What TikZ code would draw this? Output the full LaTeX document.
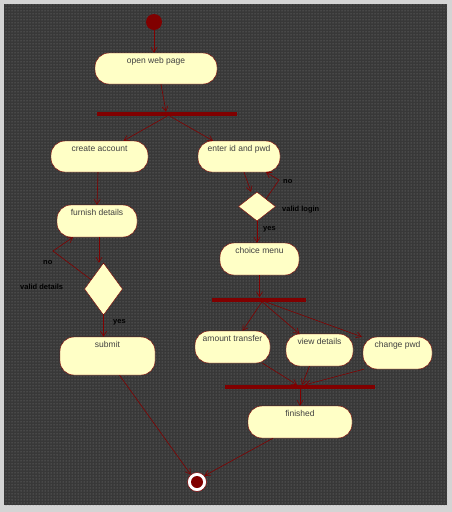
\documentclass[tikz,border=0pt]{standalone}
\usepackage{fontspec}
\setmainfont{Liberation Sans}
\usepackage{tikz}
\usetikzlibrary{arrows.meta,shapes.geometric,patterns}

\definecolor{umlred}{HTML}{800000}
\definecolor{umlfill}{HTML}{FFFFC6}
\definecolor{umlbg}{HTML}{383838}
\definecolor{umlframe}{HTML}{D4D4D4}

\begin{document}
\begin{tikzpicture}[x=1pt,y=-1pt,
  every node/.style={font=\fontsize{8.5}{10}\selectfont},
  act/.style 2 args={draw=umlred,fill=umlfill,text=black!75,rounded corners=14pt,
    minimum width=#1,inner xsep=0pt,inner ysep=2pt,text height=8pt,text depth=#2},
  bar/.style={fill=umlred,inner sep=0pt,minimum width=#1,minimum height=4pt},
  choice/.style 2 args={diamond,draw=umlred,fill=umlfill,inner sep=0pt,
    minimum width=#1,minimum height=#2},
  guard/.style={font=\bfseries\fontsize{7.5}{8}\selectfont,text=black,inner sep=0pt},
  flow/.style={draw=umlred,line width=0.6pt,-{Straight Barb[length=5pt,width=6pt]}}]

\fill[umlframe] (0,0) rectangle (452,512);
\fill[umlbg] (4,4) rectangle (447,505);
\fill[pattern=dots,pattern color=white!38!umlbg] (4,4) rectangle (447,505);
\useasboundingbox (0,0) rectangle (452,512);

\node[circle,fill=umlred,minimum size=16pt,inner sep=0pt] (init) at (154,22) {};
\node[act={122pt}{19pt}] (open) at (156,68.5) {open web page};
\node[bar=140pt] (bar1) at (167,114) {};
\node[act={97pt}{19pt}] (create) at (99.5,156.5) {create account};
\node[act={82pt}{19pt}] (enter) at (239,156.5) {enter id and pwd};
\node[act={80pt}{20pt}] (furnish) at (97,221) {furnish details};
\node[choice={38pt}{52pt}] (details) at (103.5,289) {};
\node[act={95pt}{26pt}] (submit) at (107.5,356) {submit};
\node[choice={37pt}{29pt}] (login) at (257,206.5) {};
\node[act={79pt}{20pt}] (menu) at (259.5,259) {choice menu};
\node[bar=94pt] (bar2) at (259,299.5) {};
\node[act={75pt}{20pt}] (amount) at (232.5,347) {amount transfer};
\node[act={67pt}{20pt}] (view) at (319.5,350) {view details};
\node[act={69pt}{20pt}] (change) at (397.5,353) {change pwd};
\node[bar=150pt] (bar3) at (300,387) {};
\node[act={104pt}{20pt}] (finished) at (300,422) {finished};
\node[circle,draw=umlred,fill=white,line width=0.5pt,minimum size=19pt,inner sep=0pt] (final) at (197,482) {};
\node[circle,fill=umlred,minimum size=12pt,inner sep=0pt] at (final) {};

\coordinate (backA) at (53,251);
\coordinate (backB) at (279,180);

\node[guard,anchor=west] (noA) at (43,263) {no};
\node[guard,anchor=west] (validA) at (20,287) {valid details};
\node[guard,anchor=west] (yesA) at (113,322) {yes};
\node[guard,anchor=west] (noB) at (283,182) {no};
\node[guard,anchor=west] (validB) at (282,210) {valid login};
\node[guard,anchor=west] (yesB) at (263,229) {yes};

\draw[flow] (init.south) -- (init.south |- open.north);
\draw[flow] ([xshift=5pt]open.south) -- ([xshift=-1pt]bar1.north);
\draw[flow] (bar1.south) -- ([xshift=24pt]create.north);
\draw[flow] ([xshift=3pt]bar1.south) -- ([xshift=-26pt]enter.north);
\draw[flow] ([xshift=-1.5pt]create.south) -- (furnish.north);
\draw[flow] ([xshift=2pt]furnish.south) -- ([xshift=-4.5pt]details.north);
\draw[flow] (details.143) -- (backA) -- ([xshift=-24pt]furnish.south);
\draw[flow] (details.south) -- (details.south |- submit.north);
\draw[flow] ([xshift=5pt]enter.south) -- ([xshift=-6pt]login.north);
\draw[flow] (login.40) -- (backB) -- ([xshift=27pt]enter.south);
\draw[flow] (login.south) -- (login.south |- menu.north);
\draw[flow] (menu.south) -- (menu.south |- bar2.north);
\draw[flow] ([xshift=3pt]bar2.south) -- ([xshift=10pt]amount.north);
\draw[flow] ([xshift=3pt]bar2.south) -- ([xshift=-20pt]view.north);
\draw[flow] ([xshift=6pt]bar2.south) -- ([xshift=-1pt]change.north west);
\draw[flow] ([xshift=30pt]amount.south) -- ([xshift=-3pt]bar3.north);
\draw[flow] ([xshift=-10pt]view.south) -- ([xshift=2pt]bar3.north);
\draw[flow] ([xshift=1pt]change.south west) -- ([xshift=5pt]bar3.north);
\draw[flow] (bar3.south) -- (finished.north);
\draw[flow] ([xshift=-27pt]finished.south) -- (final.40);
\draw[flow] ([xshift=12pt]submit.south) -- (final.130);
\end{tikzpicture}
\end{document}
